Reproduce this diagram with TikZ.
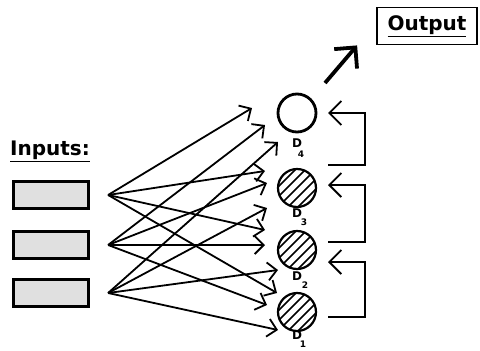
\documentclass[tikz,border=0pt]{standalone}
\usepackage{fontspec}
\setmainfont{DejaVu Sans}
\usetikzlibrary{arrows.meta}
\begin{document}
\begin{tikzpicture}[x=1pt,y=-1pt,
  inbox/.style={draw,line width=3.2pt,fill=black!12,minimum width=75pt,minimum height=27pt,inner sep=0pt},
  neuron/.style={circle,draw,line width=2.8pt,minimum size=38pt,inner sep=0pt},
  hatched/.style={circle,draw,line width=2.2pt,minimum size=38pt,inner sep=0pt,
    path picture={\foreach \k in {-40,-30,...,40}
      \draw[line width=1.5pt] ([xshift=\k pt-30pt,yshift=-30pt]path picture bounding box.center)
        -- ++(60pt,60pt);}},
  dlab/.style={font=\bfseries\fontsize{12}{12}\selectfont,inner sep=0pt},
  digit/.style={font=\bfseries\fontsize{9}{9}\selectfont,inner sep=0pt},
  title/.style={font=\bfseries\fontsize{20}{20}\selectfont,inner sep=0pt},
  wire/.style={line width=1.8pt,-{Straight Barb[length=9pt,width=18pt]}},
  fb/.style={line width=1.8pt,-{Straight Barb[length=12pt,width=24pt]}},
  bigarrow/.style={line width=3.8pt,-{Straight Barb[length=15pt,width=30pt]}}]
\useasboundingbox (0,0) rectangle (480,351);

% input units
\node[title] (lab) at (50,151) {\underline{Inputs:}};
\node[inbox] (in1) at (51,195) {};
\node[inbox] (in2) at (51,245) {};
\node[inbox] (in3) at (51,293) {};

% output units
\node[neuron]  (d4) at (297,113) {};
\node[hatched] (d3) at (297,188) {};
\node[hatched] (d2) at (297,250) {};
\node[hatched] (d1) at (297,312) {};

% unit labels
\node[dlab]  (l4) at (297,143) {D};
\node[digit] (s4) at (301,154) {4};
\node[dlab]  (l3) at (297,213) {D};
\node[digit] (s3) at (304,222) {3};
\node[dlab]  (l2) at (297,276) {D};
\node[digit] (s2) at (305,285) {2};
\node[dlab]  (l1) at (297,335) {D};
\node[digit] (s1) at (303,344) {1};

% output box
\node[draw,line width=1.8pt,minimum width=100pt,minimum height=37pt,inner sep=0pt,
  font=\bfseries\fontsize{20}{20}\selectfont] (out) at (427,26) {\underline{Output}};

% fan-out points
\coordinate (f1) at ([xshift=18pt]in1.east);
\coordinate (f2) at ([xshift=18pt]in2.east);
\coordinate (f3) at ([xshift=18pt]in3.east);

% arrow tips at the output units
\coordinate (t41) at (252,108);
\coordinate (t42) at (265,125);
\coordinate (t43) at (278,142);
\coordinate (t31) at (265,171);
\coordinate (t32) at (267,183);
\coordinate (t33) at (267,208);
\coordinate (t21) at (265,230);
\coordinate (t22) at (265,245);
\coordinate (t23) at (278,270);
\coordinate (t11) at (277,293);
\coordinate (t12) at (267,305);
\coordinate (t13) at (278,330);

% all-to-all connections
\foreach \d in {1,2,3,4}
  \foreach \i in {1,2,3}
    \draw[wire] (f\i) -- (t\d\i);

% lateral feedback loops
\draw[fb] ([xshift=31pt,yshift=23pt]d3.center) -- ++(37pt,0pt) |- ([xshift=31pt]d4.center);
\draw[fb] ([xshift=31pt,yshift=8pt]d2.center) -- ++(37pt,0pt) |- ([xshift=31pt,yshift=3pt]d3.center);
\draw[fb] ([xshift=31pt,yshift=-5pt]d1.center) -- ++(37pt,0pt) |- ([xshift=31pt,yshift=-12pt]d2.center);

% result
\draw[bigarrow] ([xshift=28pt,yshift=30pt]d4.center) -- ([xshift=-19pt]out.south west);
\end{tikzpicture}
\end{document}
